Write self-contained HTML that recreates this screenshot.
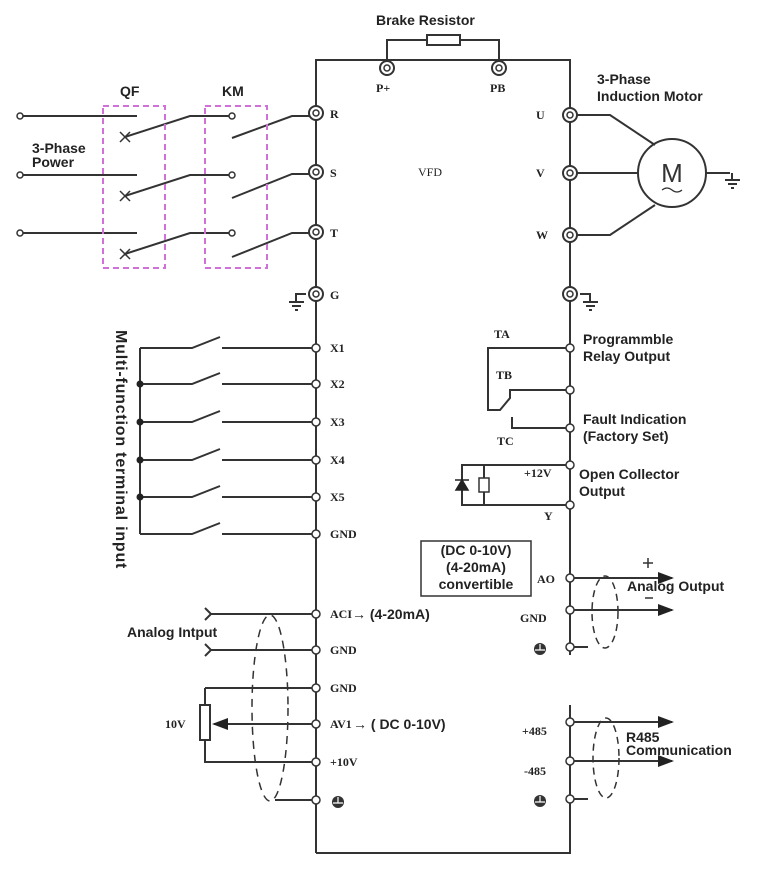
<!DOCTYPE html>
<html><head><meta charset="utf-8"><style>
html,body{margin:0;padding:0;background:#fff}
svg{display:block}
.s{font-family:"Liberation Sans",sans-serif;font-weight:bold;fill:#222}
.t{font-family:"Liberation Serif",serif;font-weight:bold;fill:#222}
</style></head><body>
<svg width="764" height="882" viewBox="0 0 764 882" xmlns="http://www.w3.org/2000/svg">
<defs>
<marker id="ar" markerWidth="8" markerHeight="8" refX="7" refY="4" orient="auto"><path d="M0,1 L8,4 L0,7 Z" fill="#222"/></marker>
</defs>
<g stroke="#333" stroke-width="2" fill="none">
<path d="M316,853 V60 H570 V655 M570,705 V853 H316"/>
<path d="M387,60 V40 H427 M460,40 H499 V60"/>
<rect x="427" y="35" width="33" height="10"/>
<path d="M20,116 H137 M20,175 H137 M20,233 H137"/>
<path d="M125,137 L190,116 H232 M125,196 L190,175 H232 M125,254 L190,233 H232"/>
<path d="M232,138 L292,116 H316 M232,198 L292,174 H316 M232,257 L292,233 H316"/>
<path d="M120,132 l10,10 M130,132 l-10,10 M120,191 l10,10 M130,191 l-10,10 M120,249 l10,10 M130,249 l-10,10" stroke-width="1.5"/>
<path d="M570,115 H610 L655,145 M570,173 H638 M570,235 H610 L655,205 M706,173 H730"/>
<circle cx="672" cy="173" r="34"/>
<path d="M732,173 V180 M725,180 H740 M728,184 H737 M731,188 H734"/>
<path d="M306,294 H296 V302 M289,302 H304 M292,306 H301 M295,310 H298"/>
<path d="M580,294 H590 V302 M583,302 H598 M586,306 H595 M589,310 H592"/>
<path d="M140,348 V534"/>
<path d="M140,348 H192 L220,337 M222,348 H316"/>
<path d="M140,384 H192 L220,373 M222,384 H316"/>
<path d="M140,422 H192 L220,411 M222,422 H316"/>
<path d="M140,460 H192 L220,449 M222,460 H316"/>
<path d="M140,497 H192 L220,486 M222,497 H316"/>
<path d="M140,534 H192 L220,523 M222,534 H316"/>
<path d="M570,348 H488 V410 H500 L510,398 V390 H570 M512,417 V428 H570"/>
<path d="M570,465 H462 V505 H570 M484,465 V478 M484,492 V505"/>
<rect x="479" y="478" width="10" height="14" stroke-width="1.5"/>
<rect x="421" y="541" width="110" height="55" stroke-width="1.5"/>
<path d="M570,578 H672" marker-end="url(#ar)"/>
<path d="M570,610 H672" marker-end="url(#ar)"/>
<path d="M570,647 H588"/>
<ellipse cx="605" cy="612" rx="13" ry="36" stroke-dasharray="7,5" stroke-width="1.5"/>
<path d="M648,558 v10 M643,563 h10 M645,598 h8" stroke-width="1.5"/>
<path d="M570,722 H672" marker-end="url(#ar)"/>
<path d="M570,761 H672" marker-end="url(#ar)"/>
<path d="M570,799 H588"/>
<ellipse cx="606" cy="758" rx="13" ry="40" stroke-dasharray="7,5" stroke-width="1.5"/>
<path d="M210,614 H316 M210,650 H316 M205,608 l6,6 l-6,6 M205,644 l6,6 l-6,6"/>
<path d="M205,688 H316 V688 M205,688 V705 M205,740 V762 H316 M275,800 H316"/>
<rect x="200" y="705" width="10" height="35"/>
<path d="M316,724 H214" marker-end="url(#ar)"/>
<ellipse cx="270" cy="708" rx="18" ry="93" stroke-dasharray="8,6" stroke-width="1.5"/>
</g>
<rect x="103" y="106" width="62" height="162" fill="none" stroke="#d070d8" stroke-width="2" stroke-dasharray="6,4"/>
<rect x="205" y="106" width="62" height="162" fill="none" stroke="#d070d8" stroke-width="2" stroke-dasharray="6,4"/>
<g fill="#fff" stroke="#333" stroke-width="2">
<circle cx="387" cy="68" r="7"/><circle cx="499" cy="68" r="7"/>
<circle cx="316" cy="113" r="7"/><circle cx="316" cy="172" r="7"/><circle cx="316" cy="232" r="7"/><circle cx="316" cy="294" r="7"/>
<circle cx="570" cy="115" r="7"/><circle cx="570" cy="173" r="7"/><circle cx="570" cy="235" r="7"/><circle cx="570" cy="294" r="7"/>
</g>
<g fill="none" stroke="#333" stroke-width="1.5">
<circle cx="387" cy="68" r="3"/><circle cx="499" cy="68" r="3"/>
<circle cx="316" cy="113" r="3"/><circle cx="316" cy="172" r="3"/><circle cx="316" cy="232" r="3"/><circle cx="316" cy="294" r="3"/>
<circle cx="570" cy="115" r="3"/><circle cx="570" cy="173" r="3"/><circle cx="570" cy="235" r="3"/><circle cx="570" cy="294" r="3"/>
</g>
<g fill="#fff" stroke="#333" stroke-width="1.5">
<circle cx="20" cy="116" r="3"/><circle cx="20" cy="175" r="3"/><circle cx="20" cy="233" r="3"/>
<circle cx="232" cy="116" r="3"/><circle cx="232" cy="175" r="3"/><circle cx="232" cy="233" r="3"/>
<circle cx="316" cy="348" r="4"/><circle cx="316" cy="384" r="4"/><circle cx="316" cy="422" r="4"/><circle cx="316" cy="460" r="4"/><circle cx="316" cy="497" r="4"/><circle cx="316" cy="534" r="4"/>
<circle cx="316" cy="614" r="4"/><circle cx="316" cy="650" r="4"/><circle cx="316" cy="688" r="4"/><circle cx="316" cy="724" r="4"/><circle cx="316" cy="762" r="4"/><circle cx="316" cy="800" r="4"/>
<circle cx="570" cy="348" r="4"/><circle cx="570" cy="390" r="4"/><circle cx="570" cy="428" r="4"/><circle cx="570" cy="465" r="4"/><circle cx="570" cy="505" r="4"/>
<circle cx="570" cy="578" r="4"/><circle cx="570" cy="610" r="4"/><circle cx="570" cy="647" r="4"/><circle cx="570" cy="722" r="4"/><circle cx="570" cy="761" r="4"/><circle cx="570" cy="799" r="4"/>
</g>
<g fill="#222"><circle cx="140" cy="384" r="3.5"/><circle cx="140" cy="422" r="3.5"/><circle cx="140" cy="460" r="3.5"/><circle cx="140" cy="497" r="3.5"/>
<path d="M456,490 L468,490 L462,480 Z M455,480 H469" stroke="#222" stroke-width="1.5"/></g>
<g fill="#333"><circle cx="338" cy="802" r="6"/><circle cx="540" cy="649" r="6"/><circle cx="540" cy="801" r="6"/></g>
<g stroke="#fff" stroke-width="1.2"><path d="M333,803 h10 M338,797 v6 M535,650 h10 M540,644 v6 M535,802 h10 M540,796 v6"/></g>
<text class="s" x="376" y="25" font-size="14">Brake Resistor</text>
<text class="s" x="120" y="96" font-size="14">QF</text>
<text class="s" x="222" y="96" font-size="14">KM</text>
<text class="s" x="32" y="153" font-size="14">3-Phase</text>
<text class="s" x="32" y="167" font-size="14">Power</text>
<text class="s" x="597" y="84" font-size="14">3-Phase</text>
<text class="s" x="597" y="101" font-size="14">Induction Motor</text>
<text x="672" y="182" font-size="26" text-anchor="middle" font-family="Liberation Sans,sans-serif" fill="#333">M</text>
<path d="M662,190 q5,-4 10,0 t10,0" stroke="#333" fill="none" stroke-width="1.2"/>
<g class="t" font-size="12">
<text x="376" y="92">P+</text><text x="490" y="92">PB</text>
<text x="330" y="118">R</text><text x="330" y="177">S</text><text x="330" y="237">T</text><text x="330" y="299">G</text>
<text x="536" y="119">U</text><text x="536" y="177">V</text><text x="536" y="239">W</text>
<text x="418" y="176" font-weight="normal">VFD</text>
<text x="330" y="352">X1</text><text x="330" y="388">X2</text><text x="330" y="426">X3</text><text x="330" y="464">X4</text><text x="330" y="501">X5</text><text x="330" y="538">GND</text>
<text x="330" y="618">ACI</text><text x="330" y="654">GND</text><text x="330" y="692">GND</text><text x="330" y="728">AV1</text><text x="330" y="766">+10V</text>
<text x="165" y="728">10V</text>
<text x="494" y="338">TA</text><text x="496" y="379">TB</text><text x="497" y="445">TC</text>
<text x="524" y="477">+12V</text><text x="544" y="520">Y</text>
<text x="537" y="583">AO</text><text x="520" y="622">GND</text>
<text x="522" y="735">+485</text><text x="524" y="775">-485</text>
</g>
<g class="s" font-size="14">
<text x="352" y="619">→ (4-20mA)</text>
<text x="353" y="729">→ ( DC 0-10V)</text>
<text x="127" y="637">Analog Intput</text>
<text x="583" y="344">Programmble</text>
<text x="583" y="361">Relay Output</text>
<text x="583" y="424">Fault Indication</text>
<text x="583" y="441">(Factory Set)</text>
<text x="579" y="479">Open Collector</text>
<text x="579" y="496">Output</text>
<text x="476" y="555" text-anchor="middle">(DC 0-10V)</text>
<text x="476" y="572" text-anchor="middle">(4-20mA)</text>
<text x="476" y="589" text-anchor="middle">convertible</text>
<text x="627" y="591">Analog Output</text>
<text x="626" y="742">R485</text>
<text x="626" y="755">Communication</text>
<text transform="translate(116,330) rotate(90)" font-size="16" letter-spacing="0.8">Multi-function terminal input</text>
<text x="0" y="896" font-size="20">3 FUNCTIONING</text>
</g>
</svg>
</body></html>
